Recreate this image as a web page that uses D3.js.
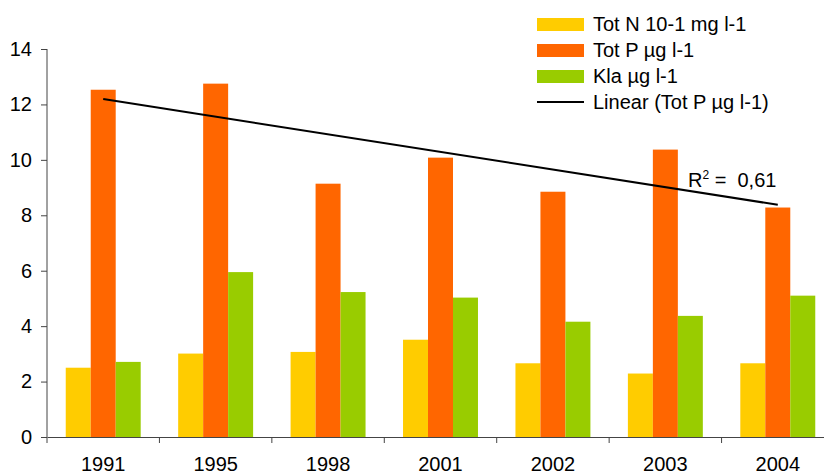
<!DOCTYPE html>
<html>
<head>
<meta charset="utf-8">
<script src="https://cdn.jsdelivr.net/npm/d3@7"></script>
<style>
  body { margin: 0; background: #fff; }
  text { font-family: "Liberation Sans", Arial, sans-serif; fill: #000; }
</style>
</head>
<body>
<div class="bar-chart"></div>
<script>
//Chart data.
var years = ["1991", "1995", "1998", "2001", "2002", "2003", "2004"];
var totN = [2.5, 3.01, 3.07, 3.51, 2.66, 2.29, 2.66];
var totP = [12.53, 12.75, 9.14, 10.08, 8.85, 10.37, 8.28];
var kla = [2.71, 5.95, 5.23, 5.03, 4.16, 4.37, 5.1];
var seriesNames = ["Tot N 10-1 mg l-1", "Tot P µg l-1", "Kla µg l-1"];
var yTicks = [0, 2, 4, 6, 8, 10, 12, 14];
var trendName = "Linear (Tot P µg l-1)";
var r2Label = "0,61";

var colors = ["#FFCC00", "#FF6600", "#99CC00"];

//SVG area dimensions.
var svgWidth = 824;
var svgHeight = 475;

var margin = { top: 49, left: 47, bottom: 38 };
var plotRight = 834; //plot runs a bit past the picture edge
var y0 = svgHeight - margin.bottom;

var svg = d3.select(".bar-chart")
  .append("svg")
  .attr("width", svgWidth)
  .attr("height", svgHeight);

//Scales.
var xScale = d3.scaleBand()
  .domain(years)
  .range([margin.left, plotRight])
  .paddingInner(0)
  .paddingOuter(0);

var innerScale = d3.scaleBand()
  .domain([0, 1, 2])
  .range([0, xScale.bandwidth()])
  .paddingInner(0)
  .paddingOuter(0.75);

var yScale = d3.scaleLinear()
  .domain([0, 14])
  .range([y0, margin.top]);

//Build rows for the bars.
var rows = years.map(function(yr, i) {
  return { year: yr, values: [totN[i], totP[i], kla[i]] };
});

var groups = svg.selectAll(".group")
  .data(rows)
  .enter().append("g")
  .attr("transform", function(d) { return "translate(" + xScale(d.year) + ",0)"; });

groups.selectAll("rect")
  .data(function(d) { return d.values; })
  .enter().append("rect")
  .attr("x", function(d, i) { return innerScale(i); })
  .attr("y", function(d) { return yScale(d); })
  .attr("width", innerScale.bandwidth())
  .attr("height", function(d) { return y0 - yScale(d); })
  .attr("fill", function(d, i) { return colors[i]; });

//Axes.
var leftAxis = d3.axisLeft(yScale)
  .tickValues(yTicks)
  .tickSize(6)
  .tickPadding(9)
  .tickFormat(d3.format("d"));

var bottomAxis = d3.axisBottom(xScale)
  .tickValues([])
  .tickSizeOuter(0);

var yAxisG = svg.append("g")
  .attr("transform", "translate(" + margin.left + ",0)")
  .call(leftAxis);
yAxisG.select(".domain").attr("d", "M0," + y0 + "V" + margin.top);

var xAxisG = svg.append("g")
  .attr("transform", "translate(0," + y0 + ")")
  .call(bottomAxis);

//Category boundary ticks (between groups) and labels.
var bounds = years.map(function(yr) { return xScale(yr); });
xAxisG.selectAll(".bound")
  .data(bounds)
  .enter().append("line")
  .attr("x1", function(d) { return d; })
  .attr("x2", function(d) { return d; })
  .attr("y1", 0)
  .attr("y2", 6)
  .attr("stroke", "#444");

xAxisG.selectAll(".lbl")
  .data(years)
  .enter().append("text")
  .attr("x", function(d) { return xScale(d) + xScale.bandwidth() / 2; })
  .attr("y", 34)
  .attr("text-anchor", "middle")
  .style("font-size", "20px")
  .text(function(d) { return d; });

svg.selectAll(".domain").attr("stroke", "#444");
yAxisG.selectAll(".tick line").attr("stroke", "#444");
yAxisG.selectAll(".tick text")
  .style("font-size", "20px")
  .style("font-family", "'Liberation Sans', Arial, sans-serif")
  .attr("fill", "#000");

//Linear trendline of Tot P (least squares on category index).
var idx = d3.range(years.length);
var mx = d3.mean(idx);
var my = d3.mean(totP);
var slope = d3.sum(idx, function(i) { return (i - mx) * (totP[i] - my); }) /
  d3.sum(idx, function(i) { return (i - mx) * (i - mx); });
var icpt = my - slope * mx;

var centerX = function(i) { return xScale(years[i]) + xScale.bandwidth() / 2; };
svg.append("line")
  .attr("x1", centerX(0))
  .attr("y1", yScale(icpt))
  .attr("x2", centerX(years.length - 1))
  .attr("y2", yScale(icpt + slope * (years.length - 1)))
  .attr("stroke", "#000")
  .attr("stroke-width", 2);

//R squared label.
var r2 = svg.append("text")
  .attr("x", 688)
  .attr("y", 187)
  .style("font-size", "20px");
r2.append("tspan").text("R");
r2.append("tspan").attr("dy", -8).style("font-size", "12px").text("2");
r2.append("tspan").attr("dy", 8).text(" =\u00a0\u00a0" + r2Label);

//Legend.
var legend = svg.append("g").attr("transform", "translate(537,0)");
seriesNames.forEach(function(name, i) {
  var cy = 24 + i * 26;
  legend.append("rect")
    .attr("x", 0)
    .attr("y", cy - 6)
    .attr("width", 47)
    .attr("height", 13)
    .attr("fill", colors[i]);
  legend.append("text")
    .attr("x", 56)
    .attr("y", cy + 7)
    .style("font-size", "20px")
    .text(name);
});
legend.append("line")
  .attr("x1", 0)
  .attr("x2", 47)
  .attr("y1", 102)
  .attr("y2", 102)
  .attr("stroke", "#000")
  .attr("stroke-width", 2);
legend.append("text")
  .attr("x", 56)
  .attr("y", 109)
  .style("font-size", "20px")
  .text(trendName);
</script>
</body>
</html>
